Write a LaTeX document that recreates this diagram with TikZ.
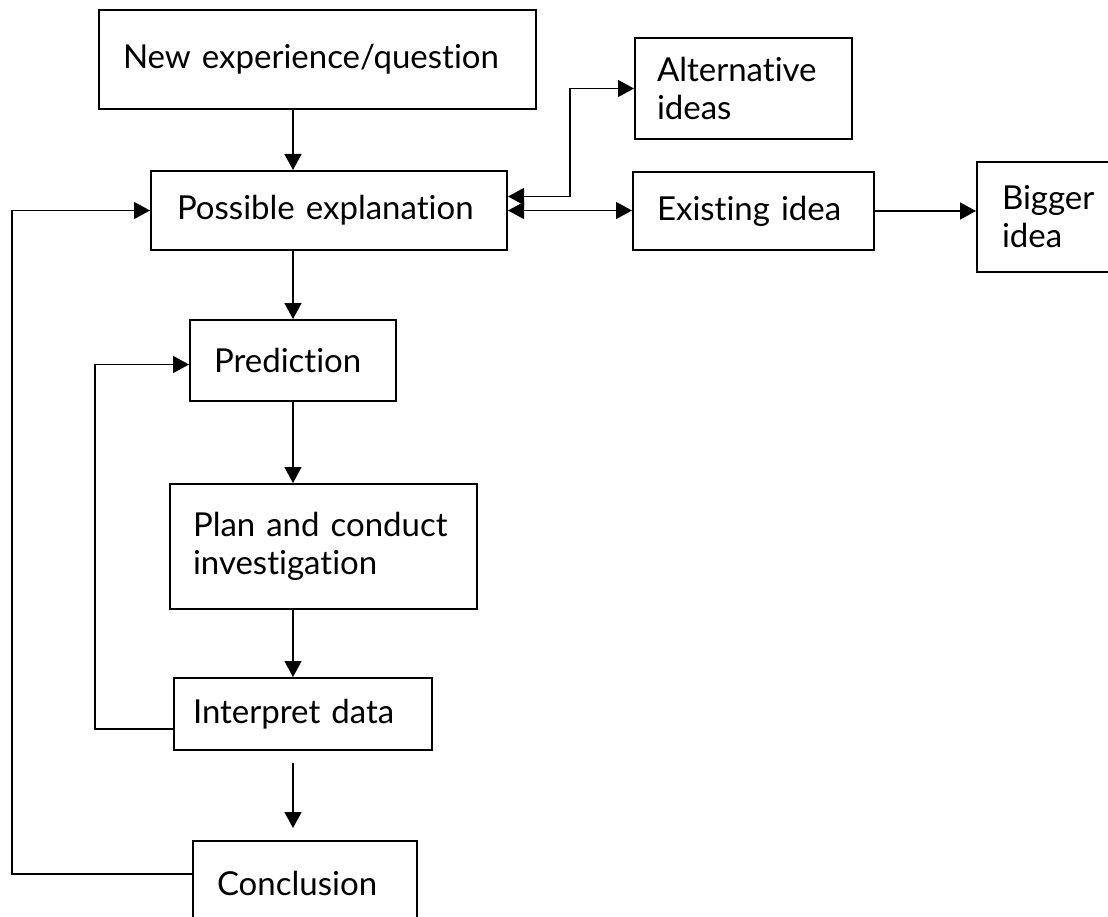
\documentclass[tikz,border=0pt]{standalone}
\usepackage{fontspec}
\setmainfont{Lato}[Ligatures={NoCommon,NoContextual}]
\usetikzlibrary{arrows.meta}
\begin{document}
\begin{tikzpicture}[x=1pt,y=-1pt]
\tikzstyle{every node}+=[inner ysep=0pt]
\tikzstyle{box}=[draw=black, line width=2pt, anchor=north west, align=left, font=\fontsize{33}{38}\selectfont]
\tikzstyle{arr}=[black, line width=1.5pt, -{Triangle[width=17pt,length=16pt]}]
\tikzstyle{arrs}=[black, line width=1.5pt, {Triangle[width=17pt,length=16pt]}-{Triangle[width=17pt,length=16pt]}]
\clip (0,0) rectangle (1108,917);
\node [box, minimum height=99pt, inner xsep=24pt, text width=389pt] (newexp) at (98,9) {New experience/question};
\node [box, minimum height=79pt, inner xsep=26pt, text width=304pt] (expl) at (150,170) {Possible explanation};
\node [box, minimum height=101pt, inner xsep=22pt, text width=173pt] (alt) at (634,37) {Alternative\\ideas};
\node [box, minimum height=78pt, inner xsep=24pt, text width=193pt] (exist) at (632,171) {Existing idea};
\node [box, minimum height=110pt, inner xsep=25pt, text width=104pt] (bigger) at (976,161) {Bigger\\idea};
\node [box, minimum height=81pt, inner xsep=24pt, text width=158pt] (pred) at (189,319) {Prediction};
\node [box, minimum height=125pt, inner xsep=23pt, text width=261pt] (plan) at (169,483) {Plan and conduct\\investigation};
\node [box, minimum height=72pt, inner xsep=19pt, text width=220pt] (interp) at (173,677) {Interpret data};
\node [box, minimum height=85pt, inner xsep=24pt, text width=176pt] (concl) at (192,840) {Conclusion};
\coordinate (loopout) at (12,874);
\coordinate (loopin) at (95,729);
\draw [arr] (newexp.south -| pred.north) -- (expl.north -| pred.north);
\draw [arr] (expl.south -| pred.north) -- (pred.north);
\draw [arr] (pred.south) -- (plan.north -| pred.south);
\draw [arr] (plan.south -| pred.south) -- (interp.north -| pred.south);
\draw [arr, shorten <=12pt, shorten >=12pt] (interp.south -| pred.south) -- (concl.north -| pred.south);
\draw [arr] (concl.west |- loopout) -- (loopout) |- (expl.west);
\draw [arr] (interp.west |- loopin) -- (loopin) |- ([yshift=-4pt]pred.west);
\draw [arrs] (expl.east) -- (expl.east -| exist.west);
\draw [arrs] ([yshift=14pt]expl.east) -- ++(62,0) |- (alt.west);
\draw [arr] (exist.east) -- (exist.east -| bigger.west);
\end{tikzpicture}
\end{document}
